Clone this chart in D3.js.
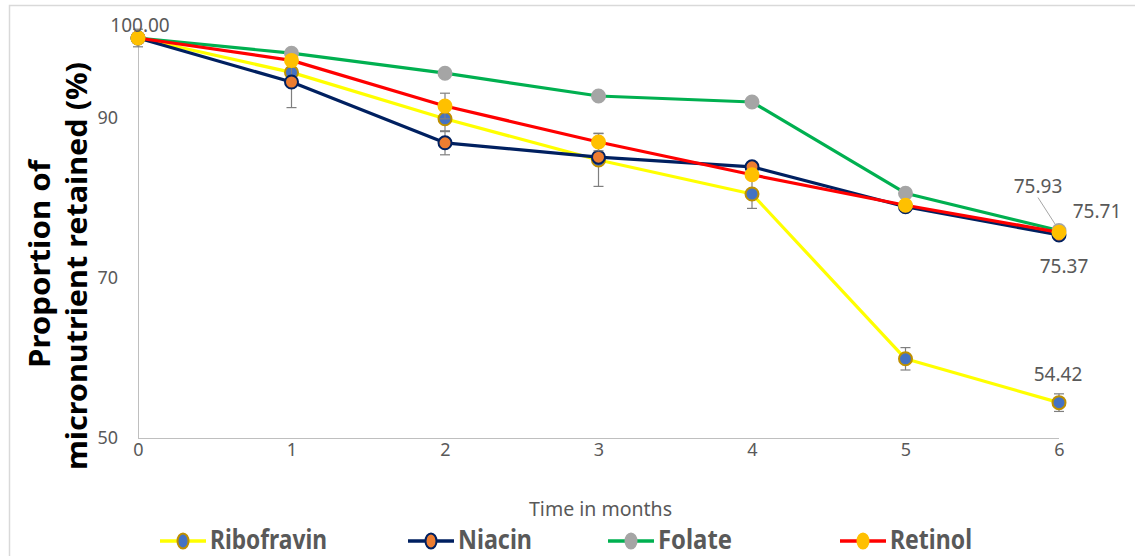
<!DOCTYPE html>
<html>
<head>
<meta charset="utf-8">
<script src="https://cdn.jsdelivr.net/npm/d3@7"></script>
<style>
  html, body { margin: 0; padding: 0; background: #fff; }
  svg { display: block; }
</style>
</head>
<body>
<svg id="chart" width="1135" height="556"></svg>
<script>
// Storage time (months) and retained proportion of each micronutrient (%)
const months = [0, 1, 2, 3, 4, 5, 6];
const ribofravin = [100, 95.7, 89.9, 84.75, 80.5, 59.9, 54.42];
const niacin     = [100, 94.5, 86.9, 85.1, 83.9, 78.9, 75.37];
const folate     = [100, 98.1, 95.6, 92.75, 92.0, 80.6, 75.93];
const retinol    = [100, 97.2, 91.5, 87.0, 82.9, 79.1, 75.71];

// Standard deviations drawn as error bars
const ribofravinErr = [0, 0, 1.6, 3.3, 1.8, 1.4, 1.1];
const niacinErr     = [1.1, 3.2, 1.5, 0, 0, 0, 0];
const folateErr     = [0, 0, 0, 0, 0, 0, 0];
const retinolErr    = [0, 0, 1.6, 1.1, 0, 0, 0];

const yTicks = [50, 70, 90];
const seriesNames = ["Ribofravin", "Niacin", "Folate", "Retinol"];

const series = [
  { name: seriesNames[0], values: ribofravin, err: ribofravinErr,
    line: "#ffff00", fill: "#4472c4", stroke: "#bf9000" },
  { name: seriesNames[1], values: niacin, err: niacinErr,
    line: "#002060", fill: "#ed7d31", stroke: "#002060" },
  { name: seriesNames[2], values: folate, err: folateErr,
    line: "#00b050", fill: "#a5a5a5", stroke: "#a5a5a5" },
  { name: seriesNames[3], values: retinol, err: retinolErr,
    line: "#ff0000", fill: "#ffc000", stroke: "#ffc000" }
];

const svg = d3.select("#chart");
const textGray = "#595959";
const font = "'Noto Sans', 'Open Sans', sans-serif";

// outer frame
svg.append("rect")
  .attr("x", 9.5).attr("y", 5.5)
  .attr("width", 1140).attr("height", 560)
  .attr("fill", "none").attr("stroke", "#d9d9d9").attr("stroke-width", 1.5);

const x = d3.scaleLinear().domain([0, 6]).range([138, 1059]);
const y = d3.scaleLinear().domain([50, 100]).range([438, 38]);

// axes (lines only, labels drawn from the scales)
const axisColor = "#bfbfbf";
const yAxis = svg.append("g").attr("transform", `translate(${x(0)},0)`)
  .call(d3.axisLeft(y).tickValues(yTicks).tickSize(0).tickPadding(20).tickFormat(d3.format("d")));
yAxis.select(".domain").remove();
yAxis.append("line").attr("x1", 0.5).attr("x2", 0.5)
  .attr("y1", y(100)).attr("y2", y(50)).attr("stroke", axisColor);
yAxis.selectAll(".tick text")
  .attr("fill", textGray).attr("font-size", 18).attr("font-family", font);

const xAxis = svg.append("g").attr("transform", `translate(0,${y(50)})`)
  .call(d3.axisBottom(x).tickValues(months).tickSize(0).tickPadding(5).tickFormat(d3.format("d")));
xAxis.select(".domain").remove();
xAxis.append("line").attr("x1", x(0)).attr("x2", x(6))
  .attr("y1", 0.5).attr("y2", 0.5).attr("stroke", axisColor);
xAxis.selectAll(".tick text")
  .attr("fill", textGray).attr("font-size", 18).attr("font-family", font);

// axis titles
svg.append("text")
  .attr("x", (x(0) + x(6)) / 2 + 2).attr("y", 516)
  .attr("text-anchor", "middle")
  .attr("font-family", font).attr("font-size", 20)
  .attr("fill", textGray)
  .attr("textLength", 143).attr("lengthAdjust", "spacingAndGlyphs")
  .text("Time in months");

const yTitle = svg.append("g");
yTitle.append("text")
  .attr("transform", "translate(50,264) rotate(-90)")
  .attr("text-anchor", "middle")
  .attr("font-family", font).attr("font-weight", "bold").attr("font-size", 29)
  .attr("fill", "#000")
  .attr("textLength", 208).attr("lengthAdjust", "spacingAndGlyphs")
  .text("Proportion of");
yTitle.append("text")
  .attr("transform", "translate(87,266) rotate(-90)")
  .attr("text-anchor", "middle")
  .attr("font-family", font).attr("font-weight", "bold").attr("font-size", 29)
  .attr("fill", "#000")
  .attr("textLength", 408).attr("lengthAdjust", "spacingAndGlyphs")
  .text("micronutrient retained (%)");

const line = d3.line().x((d, i) => x(months[i])).y(d => y(d));

// each series: error bars, line, markers
series.forEach(s => {
  const g = svg.append("g");
  const eb = g.append("g").attr("stroke", "#7f7f7f").attr("stroke-width", 1.2);
  s.values.forEach((v, i) => {
    const e = s.err[i];
    if (!e) return;
    const cx = x(months[i]);
    eb.append("line").attr("x1", cx).attr("x2", cx).attr("y1", y(v + e)).attr("y2", y(v - e));
    eb.append("line").attr("x1", cx - 5).attr("x2", cx + 5).attr("y1", y(v + e)).attr("y2", y(v + e));
    eb.append("line").attr("x1", cx - 5).attr("x2", cx + 5).attr("y1", y(v - e)).attr("y2", y(v - e));
  });
  g.append("path").datum(s.values)
    .attr("d", line).attr("fill", "none")
    .attr("stroke", s.line).attr("stroke-width", 3.2)
    .attr("stroke-linejoin", "round");
  g.selectAll("circle").data(s.values).join("circle")
    .attr("cx", (d, i) => x(months[i])).attr("cy", d => y(d))
    .attr("r", 6.5)
    .attr("fill", s.fill).attr("stroke", s.stroke).attr("stroke-width", 2);
});

// data labels
const labelStyle = sel => sel.attr("font-family", font).attr("font-size", 19).attr("fill", textGray);
svg.append("text").call(labelStyle)
  .attr("x", x(0) + 2).attr("y", y(ribofravin[0]) - 6).attr("text-anchor", "middle")
  .text(d3.format(".2f")(ribofravin[0]));
svg.append("line")
  .attr("x1", x(6) - 21).attr("y1", y(folate[6]) - 33)
  .attr("x2", x(6) - 3).attr("y2", y(folate[6]) - 5)
  .attr("stroke", "#a6a6a6").attr("stroke-width", 1);
svg.append("text").call(labelStyle)
  .attr("x", x(6) - 21).attr("y", y(folate[6]) - 38).attr("text-anchor", "middle")
  .text(d3.format(".2f")(folate[6]));
svg.append("text").call(labelStyle)
  .attr("x", x(6) + 38).attr("y", y(retinol[6]) - 14).attr("text-anchor", "middle")
  .text(d3.format(".2f")(retinol[6]));
svg.append("text").call(labelStyle)
  .attr("x", x(6) + 5).attr("y", y(niacin[6]) + 38).attr("text-anchor", "middle")
  .text(d3.format(".2f")(niacin[6]));
svg.append("text").call(labelStyle)
  .attr("x", x(6) - 1).attr("y", y(ribofravin[6]) - 22).attr("text-anchor", "middle")
  .text(d3.format(".2f")(ribofravin[6]));

// legend
const legendX = [160, 408, 608, 840];
const legendW = [117, 74, 74, 82];
const legend = svg.append("g");
series.forEach((s, i) => {
  const lx = legendX[i], ly = 541;
  legend.append("line").attr("x1", lx).attr("x2", lx + 46)
    .attr("y1", ly).attr("y2", ly).attr("stroke", s.line).attr("stroke-width", 3.5);
  legend.append("ellipse").attr("cx", lx + 23).attr("cy", ly)
    .attr("rx", 5.5).attr("ry", 7.5)
    .attr("fill", s.fill).attr("stroke", s.stroke).attr("stroke-width", 2);
  legend.append("text").attr("x", lx + 50).attr("y", 549)
    .attr("font-family", font).attr("font-weight", "bold").attr("font-size", 27)
    .attr("fill", textGray)
    .attr("textLength", legendW[i]).attr("lengthAdjust", "spacingAndGlyphs")
    .text(s.name);
});
</script>
</body>
</html>
